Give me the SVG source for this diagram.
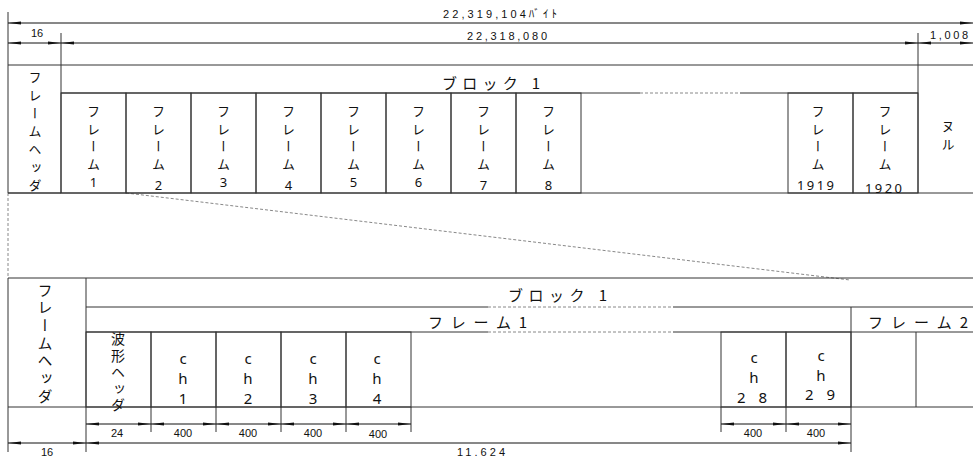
<svg xmlns="http://www.w3.org/2000/svg" width="973" height="459" viewBox="0 0 973 459">
<style>
.ln{stroke:#333;stroke-width:1;fill:none}
.ds{stroke:#888;stroke-width:1;fill:none;stroke-dasharray:3,2}
.dim{stroke:#111;stroke-width:1;fill:none;marker-start:url(#ar);marker-end:url(#ar)}
.vt{font-family:"Noto Sans CJK JP",sans-serif;font-size:13px;writing-mode:vertical-rl;fill:#111;letter-spacing:4.7px}
.vu{font-family:"Noto Sans","Noto Sans CJK JP",sans-serif;font-size:15px;writing-mode:vertical-rl;text-orientation:upright;fill:#111}
.n{font-family:"Noto Sans","Noto Sans CJK JP",sans-serif;font-size:13px;text-anchor:middle;dominant-baseline:central;fill:#111}
.nl{font-family:"Noto Sans","Noto Sans CJK JP",sans-serif;font-size:15px;text-anchor:middle;dominant-baseline:central;fill:#111}
.t{font-family:"Noto Sans CJK JP",sans-serif;font-size:15px;dominant-baseline:central;fill:#111}
.d{font-family:"Liberation Sans","Noto Sans CJK JP",sans-serif;font-size:11px;dominant-baseline:central;fill:#111}
.dc{font-family:"Liberation Sans","Noto Sans CJK JP",sans-serif;font-size:11px;text-anchor:middle;dominant-baseline:central;fill:#111}
</style>
<defs>
<marker id="ar" markerUnits="userSpaceOnUse" markerWidth="14" markerHeight="6" refX="13" refY="3" orient="auto-start-reverse">
<path d="M13,3 L0,1.4 L0,4.6 z" fill="#111"/>
</marker>
</defs>

<g id="connectors">
<line class="ln" x1="8" y1="12" x2="8" y2="193"/>
<line class="ds" x1="8" y1="193" x2="8" y2="278"/>
<line class="ln" x1="8" y1="278" x2="8" y2="452"/>
<line class="ds" x1="126" y1="193" x2="850" y2="280"/>
<line class="ln" x1="61" y1="33" x2="61" y2="65"/>
<line class="ln" x1="918" y1="33" x2="918" y2="65"/>
<line class="dim" x1="8" y1="23" x2="973" y2="23"/>
<line class="dim" x1="8" y1="43" x2="61" y2="43"/>
<line class="dim" x1="61" y1="43" x2="918" y2="43"/>
<line class="dim" x1="918" y1="43" x2="973" y2="43"/>
<line class="ln" x1="86" y1="407" x2="86" y2="452"/>
<line class="ln" x1="151" y1="407" x2="151" y2="432"/>
<line class="ln" x1="216" y1="407" x2="216" y2="432"/>
<line class="ln" x1="281" y1="407" x2="281" y2="432"/>
<line class="ln" x1="346" y1="407" x2="346" y2="432"/>
<line class="ln" x1="411" y1="407" x2="411" y2="432"/>
<line class="ln" x1="721" y1="407" x2="721" y2="432"/>
<line class="ln" x1="786" y1="407" x2="786" y2="432"/>
<line class="ln" x1="851" y1="407" x2="851" y2="452"/>
<line class="dim" x1="86" y1="424" x2="151" y2="424"/>
<line class="dim" x1="151" y1="424" x2="216" y2="424"/>
<line class="dim" x1="216" y1="424" x2="281" y2="424"/>
<line class="dim" x1="281" y1="424" x2="346" y2="424"/>
<line class="dim" x1="346" y1="424" x2="411" y2="424"/>
<line class="dim" x1="721" y1="424" x2="786" y2="424"/>
<line class="dim" x1="786" y1="424" x2="851" y2="424"/>
<line class="dim" x1="8" y1="443" x2="86" y2="443"/>
<line class="dim" x1="86" y1="443" x2="851" y2="443"/>
<text class="d" x="443" y="14" textLength="114" lengthAdjust="spacing">22,319,104ﾊﾞｲﾄ</text>
<text class="d" x="467" y="36" textLength="80" lengthAdjust="spacing">22,318,080</text>
<text class="dc" x="37" y="33">16</text>
<text class="d" x="930" y="35" textLength="38" lengthAdjust="spacing">1,008</text>
<text class="dc" x="117" y="433">24</text>
<text class="dc" x="183" y="433">400</text>
<text class="dc" x="248" y="433">400</text>
<text class="dc" x="313" y="433">400</text>
<text class="dc" x="378" y="434">400</text>
<text class="dc" x="753" y="433">400</text>
<text class="dc" x="816" y="433">400</text>
<text class="dc" x="47" y="452">16</text>
<text class="d" x="457" y="452" textLength="48" lengthAdjust="spacing">11.624</text>
</g>

<g id="top-frame-header">
<path class="ln" d="M8,65 H61 V193 H8"/>
<text class="vt" x="35" y="70.5" style="letter-spacing:5px">フレームヘッダ</text>
</g>

<g id="top-block1">
<path class="ln" d="M61,65 H973 M918,65 V93 M61,93 H640 M740,93 H918"/>
<line class="ds" x1="640" y1="93" x2="740" y2="93"/>
<path class="ln" d="M8,193 H973"/>
<text class="t" x="442" y="82" textLength="98" lengthAdjust="spacing">ブロック 1</text>
</g>

<g id="top-frame1"><rect class="ln" x="61" y="93" width="65" height="100"/>
<text class="vt" x="93.5" y="104.5">フレーム</text><text class="n" x="93.5" y="182">1</text></g>
<g id="top-frame2"><rect class="ln" x="126" y="93" width="65" height="100"/>
<text class="vt" x="158.5" y="104.5">フレーム</text><text class="n" x="158.5" y="185">2</text></g>
<g id="top-frame3"><rect class="ln" x="191" y="93" width="65" height="100"/>
<text class="vt" x="223.5" y="104.5">フレーム</text><text class="n" x="223.5" y="182">3</text></g>
<g id="top-frame4"><rect class="ln" x="256" y="93" width="65" height="100"/>
<text class="vt" x="288.5" y="104.5">フレーム</text><text class="n" x="288.5" y="185">4</text></g>
<g id="top-frame5"><rect class="ln" x="321" y="93" width="65" height="100"/>
<text class="vt" x="353.5" y="104.5">フレーム</text><text class="n" x="353.5" y="182">5</text></g>
<g id="top-frame6"><rect class="ln" x="386" y="93" width="65" height="100"/>
<text class="vt" x="418.5" y="104.5">フレーム</text><text class="n" x="418.5" y="182">6</text></g>
<g id="top-frame7"><rect class="ln" x="451" y="93" width="65" height="100"/>
<text class="vt" x="483.5" y="104.5">フレーム</text><text class="n" x="483.5" y="185">7</text></g>
<g id="top-frame8"><rect class="ln" x="516" y="93" width="65" height="100"/>
<text class="vt" x="548.5" y="104.5">フレーム</text><text class="n" x="548.5" y="185">8</text></g>
<g id="top-frame1919"><rect class="ln" x="788" y="93" width="65" height="100"/>
<text class="vt" x="818" y="104.5">フレーム</text><text class="n" x="797" y="185" textLength="37" lengthAdjust="spacing" style="text-anchor:start">1919</text></g>
<g id="top-frame1920"><rect class="ln" x="853" y="93" width="65" height="100"/>
<text class="vt" x="885" y="104.5">フレーム</text><text class="n" x="865" y="188" textLength="37" lengthAdjust="spacing" style="text-anchor:start">1920</text></g>
<g id="top-null">
<line class="ln" x1="918" y1="93" x2="918" y2="193"/>
<text class="vt" x="948" y="119.5" style="letter-spacing:5px">ヌル</text>
</g>

<g id="low-frame-header">
<path class="ln" d="M8,278 H86 V407 H8"/>
<text class="vt" x="45" y="282.5" style="font-size:15px;letter-spacing:2.7px">フレームヘッダ</text>
</g>

<g id="low-block1">
<path class="ln" d="M86,278 H973 M86,307 H488 M673,307 H973"/>
<line class="ds" x1="488" y1="307" x2="673" y2="307"/>
<text class="t" x="508" y="294" textLength="99" lengthAdjust="spacing">ブロック 1</text>
</g>

<g id="low-frame1">
<path class="ln" d="M86,332 H488 M673,332 H851 M851,307 V407 M86,407 H973"/>
<line class="ds" x1="488" y1="332" x2="673" y2="332"/>
<text class="t" x="428" y="321" textLength="99" lengthAdjust="spacing">フレーム1</text>
</g>

<g id="low-frame2">
<path class="ln" d="M851,332 H973 M916,332 V407"/>
<text class="t" x="868" y="321" textLength="100" lengthAdjust="spacing">フレーム2</text>
</g>

<g id="wave-header"><rect class="ln" x="86" y="332" width="65" height="75"/>
<text class="vt" x="118" y="332" style="font-size:14px;letter-spacing:2.5px">波形ヘッダ</text>
</g>
<g id="ch1"><rect class="ln" x="151" y="332" width="65" height="75"/>
<text class="vu" x="183" y="348">ch1</text></g>
<g id="ch2"><rect class="ln" x="216" y="332" width="65" height="75"/>
<text class="vu" x="248" y="348">ch2</text></g>
<g id="ch3"><rect class="ln" x="281" y="332" width="65" height="75"/>
<text class="vu" x="313" y="348">ch3</text></g>
<g id="ch4"><rect class="ln" x="346" y="332" width="65" height="75"/>
<text class="vu" x="377" y="348">ch4</text></g>
<g id="ch28"><rect class="ln" x="721" y="332" width="65" height="75"/>
<text class="vu" x="754" y="347">ch</text><text class="nl" x="737" y="397" style="text-anchor:start;letter-spacing:4.5px">2 8</text></g>
<g id="ch29"><rect class="ln" x="786" y="332" width="65" height="75"/>
<text class="vu" x="821" y="345">ch</text><text class="nl" x="805" y="394" style="text-anchor:start;letter-spacing:4.5px">2 9</text></g>
</svg>
